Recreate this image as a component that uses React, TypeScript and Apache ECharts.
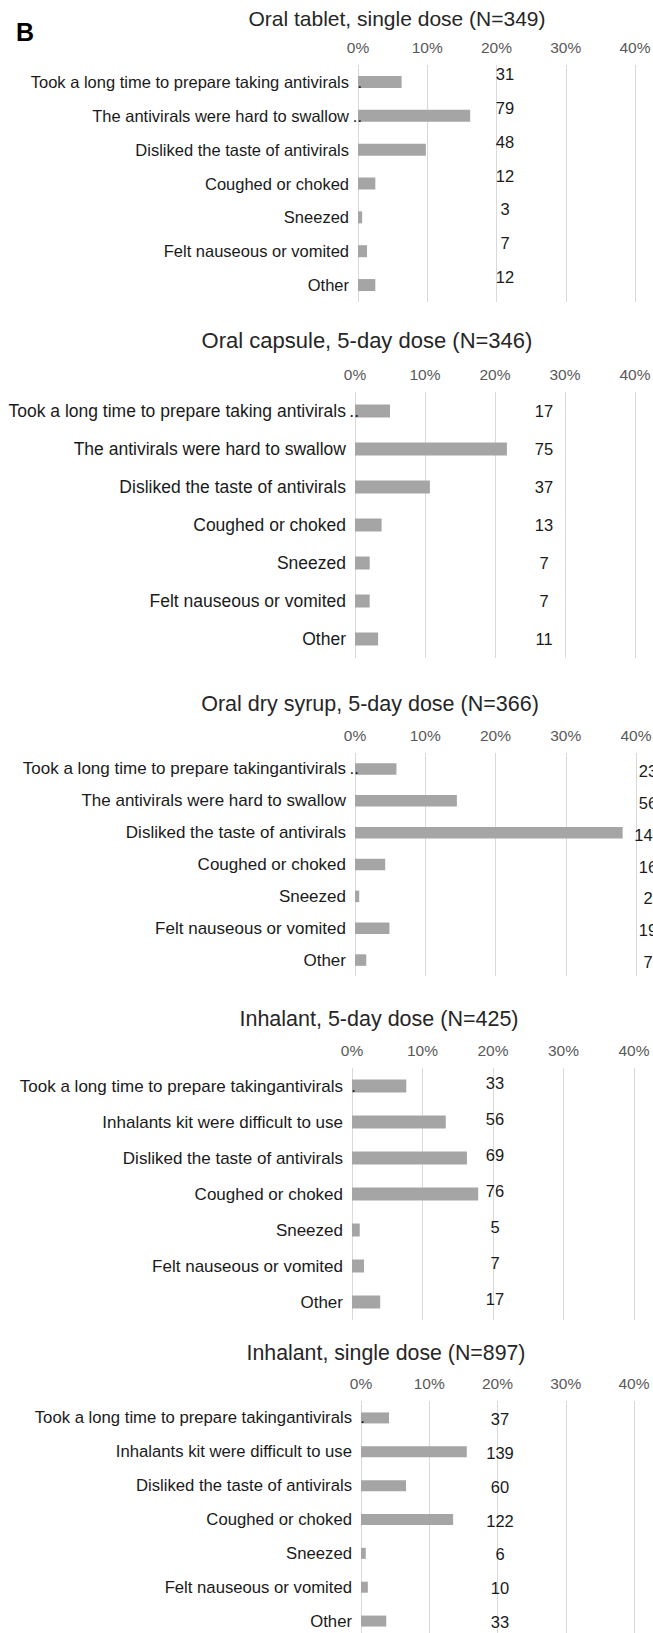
import React, { useEffect, useRef } from "react";
import * as echarts from "echarts";

// ---------- DATA ----------
const panelTitles = [
  "Oral tablet, single dose (N=349)",
  "Oral capsule, 5-day dose (N=346)",
  "Oral dry syrup, 5-day dose (N=366)",
  "Inhalant, 5-day dose (N=425)",
  "Inhalant, single dose (N=897)",
];

const catsOralTablet = [
  "Took a long time to prepare taking antivirals",
  "The antivirals were hard to swallow",
  "Disliked the taste of antivirals",
  "Coughed or choked",
  "Sneezed",
  "Felt nauseous or vomited",
  "Other",
];
const catsOralCapsule = [
  "Took a long time to prepare taking antivirals",
  "The antivirals were hard to swallow",
  "Disliked the taste of antivirals",
  "Coughed or choked",
  "Sneezed",
  "Felt nauseous or vomited",
  "Other",
];
const catsDrySyrup = [
  "Took a long time to prepare takingantivirals",
  "The antivirals were hard to swallow",
  "Disliked the taste of antivirals",
  "Coughed or choked",
  "Sneezed",
  "Felt nauseous or vomited",
  "Other",
];
const catsInhalant5 = [
  "Took a long time to prepare takingantivirals",
  "Inhalants kit were difficult to use",
  "Disliked the taste of antivirals",
  "Coughed or choked",
  "Sneezed",
  "Felt nauseous or vomited",
  "Other",
];
const catsInhalant1 = [
  "Took a long time to prepare takingantivirals",
  "Inhalants kit were difficult to use",
  "Disliked the taste of antivirals",
  "Coughed or choked",
  "Sneezed",
  "Felt nauseous or vomited",
  "Other",
];

// bar lengths (%)
const pctOralTablet = [6.3, 16.2, 9.8, 2.5, 0.6, 1.3, 2.5];
const pctOralCapsule = [5.0, 21.7, 10.7, 3.8, 2.1, 2.1, 3.3];
const pctDrySyrup = [5.9, 14.5, 38.1, 4.3, 0.6, 4.9, 1.6];
const pctInhalant5 = [7.7, 13.3, 16.3, 17.9, 1.1, 1.7, 4.0];
const pctInhalant1 = [4.1, 15.5, 6.6, 13.5, 0.7, 1.0, 3.7];

// counts shown beside bars
const cntOralTablet = [31, 79, 48, 12, 3, 7, 12];
const cntOralCapsule = [17, 75, 37, 13, 7, 7, 11];
const cntDrySyrup = [23, 56, 140, 16, 2, 19, 7];
const cntInhalant5 = [33, 56, 69, 76, 5, 7, 17];
const cntInhalant1 = [37, 139, 60, 122, 6, 10, 33];

// stray dots printed next to some category labels
const dotsOralTablet = [".", "..", "", "", "", "", ""];
const dotsOralCapsule = ["..", "", "", "", "", "", ""];
const dotsDrySyrup = ["..", "", "", "", "", "", ""];
const dotsInhalant5 = [".", "", "", "", "", "", ""];
const dotsInhalant1 = [".", "", "", "", "", "", ""];

const xTickValues = [0, 10, 20, 30, 40];
const panelLetter = "B";

const panelCats = [catsOralTablet, catsOralCapsule, catsDrySyrup, catsInhalant5, catsInhalant1];
const panelPct = [pctOralTablet, pctOralCapsule, pctDrySyrup, pctInhalant5, pctInhalant1];
const panelCnt = [cntOralTablet, cntOralCapsule, cntDrySyrup, cntInhalant5, cntInhalant1];
const panelDots = [dotsOralTablet, dotsOralCapsule, dotsDrySyrup, dotsInhalant5, dotsInhalant1];

// ---------- LAYOUT / STYLE ----------
const W = 653;
const H = 1633;
const FONT = "'Liberation Sans', Arial, Helvetica, sans-serif";

const layout = [
  { top: 65, height: 237, left: 358, right: 18, titleX: 397, titleY: 18, titleSize: 21, catSize: 16.5, barW: 12, lblDx: 147, lblDy: -8 },
  { top: 392, height: 266, left: 355, right: 18, titleX: 367, titleY: 340, titleSize: 22, catSize: 17.5, barW: 13, lblDx: 189, lblDy: 0 },
  { top: 753, height: 223, left: 355, right: 17, titleX: 370, titleY: 704, titleSize: 21.5, catSize: 17, barW: 11.5, lblDx: 293, lblDy: 2 },
  { top: 1068, height: 252, left: 352, right: 19, titleX: 379, titleY: 1019, titleSize: 21.5, catSize: 17, barW: 13, lblDx: 143, lblDy: -3 },
  { top: 1401, height: 237, left: 361, right: 19, titleX: 386, titleY: 1353, titleSize: 21.3, catSize: 16.7, barW: 11, lblDx: 139, lblDy: 1 },
];

function buildOption() {
  const grid = layout.map((l) => ({
    left: l.left,
    right: l.right,
    top: l.top,
    height: l.height,
    containLabel: false,
    outerBoundsMode: "none",
  }));

  const xAxis = layout.map((l, i) => ({
    gridIndex: i,
    type: "value",
    position: "top",
    min: xTickValues[0],
    max: xTickValues[xTickValues.length - 1],
    interval: xTickValues[1] - xTickValues[0],
    axisLabel: {
      formatter: "{value}%",
      fontSize: 15.5,
      color: "#595959",
      margin: 10,
      fontFamily: FONT,
    },
    axisLine: { show: false },
    axisTick: { show: false },
    splitLine: { show: true, lineStyle: { color: "#d9d9d9", width: 1 } },
  }));

  const yAxis = layout.map((l, i) => ({
    gridIndex: i,
    type: "category",
    inverse: true,
    z: 5,
    data: panelCats[i],
    axisLine: { show: false },
    axisTick: { show: false },
    splitLine: { show: false },
    axisLabel: {
      margin: -4,
      fontFamily: FONT,
      fontSize: l.catSize,
      color: "#1a1a1a",
      formatter: (value: string, idx: number) => {
        const d = panelDots[i][idx] || " ";
        return `{t|${value}}{d|${d}}`;
      },
      rich: {
        t: { fontSize: l.catSize, color: "#1a1a1a", fontFamily: FONT },
        d: { fontSize: l.catSize, color: "#1a1a1a", fontFamily: FONT, width: 13, align: "right" },
      },
    },
  }));

  const series = layout.map((l, i) => ({
    type: "bar",
    xAxisIndex: i,
    yAxisIndex: i,
    z: 2,
    data: panelPct[i],
    barWidth: l.barW,
    itemStyle: { color: "#a5a5a5" },
    label: {
      show: true,
      position: [l.lblDx, l.barW / 2 + l.lblDy],
      align: "center",
      verticalAlign: "middle",
      fontSize: 16.5,
      fontFamily: FONT,
      color: "#1a1a1a",
      formatter: (p: any) => String(panelCnt[i][p.dataIndex]),
    },
  }));

  const graphic: any[] = [
    {
      type: "text",
      x: 16,
      y: 32,
      style: {
        text: panelLetter,
        fontSize: 25,
        fontWeight: "bold",
        fontFamily: FONT,
        fill: "#000",
        align: "left",
        verticalAlign: "middle",
        textAlign: "left",
        textVerticalAlign: "middle",
      },
    },
  ];
  layout.forEach((l, i) => {
    graphic.push({
      type: "text",
      x: l.titleX,
      y: l.titleY,
      style: {
        text: panelTitles[i],
        fontSize: l.titleSize,
        fontFamily: FONT,
        fill: "#262626",
        align: "center",
        verticalAlign: "middle",
        textAlign: "center",
        textVerticalAlign: "middle",
      },
    });
  });

  return {
    animation: false,
    backgroundColor: "#ffffff",
    textStyle: { fontFamily: FONT },
    grid,
    xAxis,
    yAxis,
    series,
    graphic,
  };
}

export default function App() {
  const ref = useRef<HTMLDivElement>(null);
  useEffect(() => {
    if (!ref.current) return;
    const chart = echarts.init(ref.current, undefined, { renderer: "svg", width: W, height: H });
    chart.setOption(buildOption() as any);
    return () => chart.dispose();
  }, []);
  return (
    <div
      ref={ref}
      style={{ position: "absolute", left: 0, top: 0, width: W, height: H, background: "#fff" }}
    />
  );
}
